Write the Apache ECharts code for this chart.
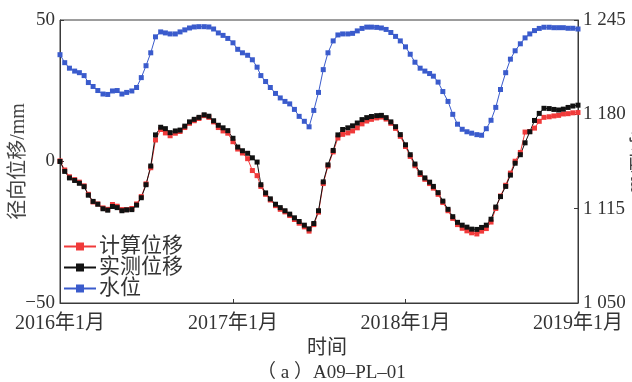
<!DOCTYPE html>
<html>
<head>
<meta charset="utf-8">
<script src="https://cdn.jsdelivr.net/npm/echarts@6/dist/echarts.min.js"></script>
<style>html,body{margin:0;padding:0;background:#fff}#c{width:632px;height:382px}</style>
</head>
<body>
<div id="c"></div>
<script>
const dates = [
'2016-01-01','2016-01-11','2016-01-21','2016-02-01','2016-02-11','2016-02-21','2016-03-01','2016-03-11','2016-03-21',
'2016-04-01','2016-04-11','2016-04-21','2016-05-01','2016-05-11','2016-05-21','2016-06-01','2016-06-11','2016-06-21',
'2016-07-01','2016-07-11','2016-07-21','2016-08-01','2016-08-11','2016-08-21','2016-09-01','2016-09-11','2016-09-21',
'2016-10-01','2016-10-11','2016-10-21','2016-11-01','2016-11-11','2016-11-21','2016-12-01','2016-12-11','2016-12-21',
'2017-01-01','2017-01-11','2017-01-21','2017-02-01','2017-02-11','2017-02-21','2017-03-01','2017-03-11','2017-03-21',
'2017-04-01','2017-04-11','2017-04-21','2017-05-01','2017-05-11','2017-05-21','2017-06-01','2017-06-11','2017-06-21',
'2017-07-01','2017-07-11','2017-07-21','2017-08-01','2017-08-11','2017-08-21','2017-09-01','2017-09-11','2017-09-21',
'2017-10-01','2017-10-11','2017-10-21','2017-11-01','2017-11-11','2017-11-21','2017-12-01','2017-12-11','2017-12-21',
'2018-01-01','2018-01-11','2018-01-21','2018-02-01','2018-02-11','2018-02-21','2018-03-01','2018-03-11','2018-03-21',
'2018-04-01','2018-04-11','2018-04-21','2018-05-01','2018-05-11','2018-05-21','2018-06-01','2018-06-11','2018-06-21',
'2018-07-01','2018-07-11','2018-07-21','2018-08-01','2018-08-11','2018-08-21','2018-09-01','2018-09-11','2018-09-21',
'2018-10-01','2018-10-11','2018-10-21','2018-11-01','2018-11-11','2018-11-21','2018-12-01','2018-12-11','2018-12-21',
'2019-01-01'];

const calcDisp = [
0.2,-3.0,-5.4,-6.4,-7.3,-8.6,-11.6,-14.3,-15.0,-16.4,
-16.9,-15.2,-15.8,-17.0,-17.0,-16.6,-15.0,-12.4,-7.9,-2.2,
7.6,11.3,10.1,9.1,10.0,10.6,12.0,13.5,14.4,15.2,
16.2,15.6,14.0,12.0,10.8,10.0,7.0,4.4,3.0,1.0,
-3.2,-5.0,-8.8,-11.6,-13.6,-15.6,-16.9,-17.8,-19.1,-20.5,
-21.8,-23.1,-24.6,-22.3,-17.9,-7.8,-1.6,3.4,8.3,9.6,
10.1,10.8,11.9,13.3,14.3,14.9,15.4,15.7,15.0,13.5,
11.7,8.9,5.3,1.8,-1.5,-4.6,-6.3,-7.8,-9.4,-11.6,
-14.5,-17.4,-20.1,-22.3,-23.6,-24.5,-25.2,-25.6,-24.6,-23.7,
-21.4,-16.6,-12.2,-8.4,-4.1,0.1,3.2,10.4,10.6,11.8,
14.2,15.6,15.8,16.1,16.3,16.8,16.9,17.2,17.3];

const measDisp = [
0.0,-3.5,-5.8,-6.7,-7.7,-8.9,-11.9,-14.1,-15.1,-16.7,
-17.2,-15.9,-16.3,-17.4,-17.1,-17.0,-15.4,-12.8,-8.2,-1.6,
9.4,12.1,11.6,10.2,10.8,11.1,12.5,14.0,14.9,15.6,
16.5,16.0,14.4,12.8,11.9,10.9,8.2,5.1,3.8,2.9,
1.3,-0.2,-8.2,-11.1,-13.2,-15.1,-16.3,-17.4,-18.6,-19.9,
-21.2,-22.5,-23.8,-21.9,-17.4,-7.2,-1.2,3.9,9.4,11.3,
11.9,12.6,13.6,14.8,15.5,15.9,16.2,16.3,15.5,14.0,
12.3,9.5,5.9,2.4,-0.9,-4.0,-5.8,-7.3,-8.8,-11.0,
-14.0,-16.9,-19.5,-21.5,-22.5,-23.2,-23.9,-24.0,-23.3,-22.5,
-20.4,-16.1,-12.4,-8.8,-4.8,-0.6,2.4,6.6,10.5,14.5,
17.0,18.8,18.7,18.4,18.2,18.5,19.1,19.6,19.9];

const waterLevel = [
1221.1,1215.6,1211.8,1209.8,1208.7,1206.7,1201.9,1199.2,1196.4,1194.0,
1193.7,1196.1,1196.4,1194.0,1195.1,1196.1,1198.5,1205.3,1213.5,1222.4,
1233.4,1236.8,1236.1,1235.4,1235.4,1236.8,1238.2,1239.5,1240.2,1240.4,
1240.4,1240.2,1238.8,1236.1,1234.4,1232.3,1229.3,1224.8,1222.4,1220.7,
1217.6,1212.5,1206.7,1202.6,1198.5,1194.4,1191.3,1188.9,1187.2,1183.4,
1178.6,1175.2,1171.4,1182.7,1195.1,1210.8,1222.4,1230.6,1234.7,1235.4,
1235.4,1235.8,1237.5,1239.2,1240.1,1240.1,1239.9,1239.5,1238.5,1236.4,
1233.7,1230.6,1226.5,1221.4,1215.9,1211.8,1209.8,1208.1,1206.3,1202.2,
1195.7,1188.9,1180.0,1173.2,1169.7,1168.0,1167.0,1166.0,1165.6,1170.1,
1175.9,1184.8,1197.1,1208.7,1218.0,1223.8,1228.6,1232.7,1235.4,1237.7,
1239.2,1240.0,1240.0,1239.7,1239.7,1239.7,1239.3,1239.3,1238.8];

const seriesNames = ['计算位移', '实测位移', '水位'];
const leftTicks = [-50, 0, 50];
const rightTicks = [1050, 1115, 1180, 1245];

const FONT = "'Liberation Serif', 'Noto Sans CJK SC', serif";
const AX = '#3a3a3a';

function pairs(vals) { return dates.map((d, i) => [d, vals[i]]); }

const chart = echarts.init(document.getElementById('c'), null, {renderer: 'canvas'});
chart.setOption({
  animation: false,
  backgroundColor: '#fff',
  title: {
    text: '（ a ）A09–PL–01',
    left: 252, top: 359,
    textStyle: {fontFamily: FONT, fontSize: 19, fontWeight: 'normal', color: '#333'}
  },
  grid: {left: 60, right: 54, top: 20, bottom: 79, show: true, borderColor: AX, borderWidth: 1,
         containLabel: false, outerBoundsMode: 'none'},
  legend: {
    data: seriesNames,
    orient: 'vertical', left: 60, top: 234,
    itemWidth: 32, itemHeight: 10, itemGap: 0, padding: [2, 5, 2, 3],
    textStyle: {fontFamily: FONT, fontSize: 21, color: '#333', padding: [0, 0, 0, -2]}
  },
  xAxis: {
    type: 'time',
    min: dates[0], max: dates[dates.length - 1],
    splitNumber: 3,
    minInterval: 360 * 86400000,
    name: '时间', nameLocation: 'middle', nameGap: 34,
    nameTextStyle: {fontFamily: FONT, fontSize: 20, color: '#333', padding: [0, 0, 0, 16]},
    axisLine: {onZero: false, lineStyle: {color: AX, width: 1}},
    axisTick: {show: true, inside: true, length: 4, lineStyle: {color: AX}},
    splitLine: {show: false},
    axisLabel: {
      fontFamily: FONT, fontSize: 20, color: '#333', margin: 11,
      showMinLabel: true, showMaxLabel: true,
      formatter: function (v) { const d = new Date(v); return d.getFullYear() + '年' + (d.getMonth() + 1) + '月'; }
    }
  },
  yAxis: [{
    type: 'value', min: leftTicks[0], max: leftTicks[leftTicks.length - 1], interval: 50,
    name: '径向位移/mm', nameLocation: 'middle', nameGap: 31, nameMoveOverlap: false,
    nameTextStyle: {fontFamily: FONT, fontSize: 20, color: '#444'},
    axisLine: {show: true, onZero: false, lineStyle: {color: AX, width: 1}},
    axisTick: {show: true, inside: true, length: 4, lineStyle: {color: AX}},
    splitLine: {show: false},
    axisLabel: {fontFamily: FONT, fontSize: 19, color: '#333', margin: 5,
      formatter: v => v < 0 ? '−' + Math.abs(v) : String(v)}
  }, {
    type: 'value', min: rightTicks[0], max: rightTicks[rightTicks.length - 1], interval: 65,
    position: 'right',
    name: '水位/m', nameLocation: 'middle', nameGap: 48, nameRotate: -90, nameMoveOverlap: false,
    nameTextStyle: {fontFamily: FONT, fontSize: 20, color: '#444'},
    axisLine: {show: true, onZero: false, lineStyle: {color: AX, width: 1}},
    axisTick: {show: true, inside: true, length: 4, lineStyle: {color: AX}},
    splitLine: {show: false},
    axisLabel: {fontFamily: FONT, fontSize: 19, color: '#333', margin: 5,
      formatter: v => String(v).replace(/^(\d)(\d{3})$/, '$1 $2')}
  }],
  series: [{
    name: seriesNames[0], type: 'line', yAxisIndex: 0, data: pairs(calcDisp),
    symbol: 'rect', symbolSize: 5, showSymbol: true,
    lineStyle: {color: '#f03a3a', width: 1}, itemStyle: {color: '#f03a3a'}
  }, {
    name: seriesNames[1], type: 'line', yAxisIndex: 0, data: pairs(measDisp),
    symbol: 'rect', symbolSize: 5, showSymbol: true,
    lineStyle: {color: '#111', width: 1}, itemStyle: {color: '#111'}
  }, {
    name: seriesNames[2], type: 'line', yAxisIndex: 1, data: pairs(waterLevel),
    symbol: 'rect', symbolSize: 5, showSymbol: true,
    lineStyle: {color: '#3a5bcc', width: 1}, itemStyle: {color: '#3a5bcc'}
  }]
});
</script>
</body>
</html>
